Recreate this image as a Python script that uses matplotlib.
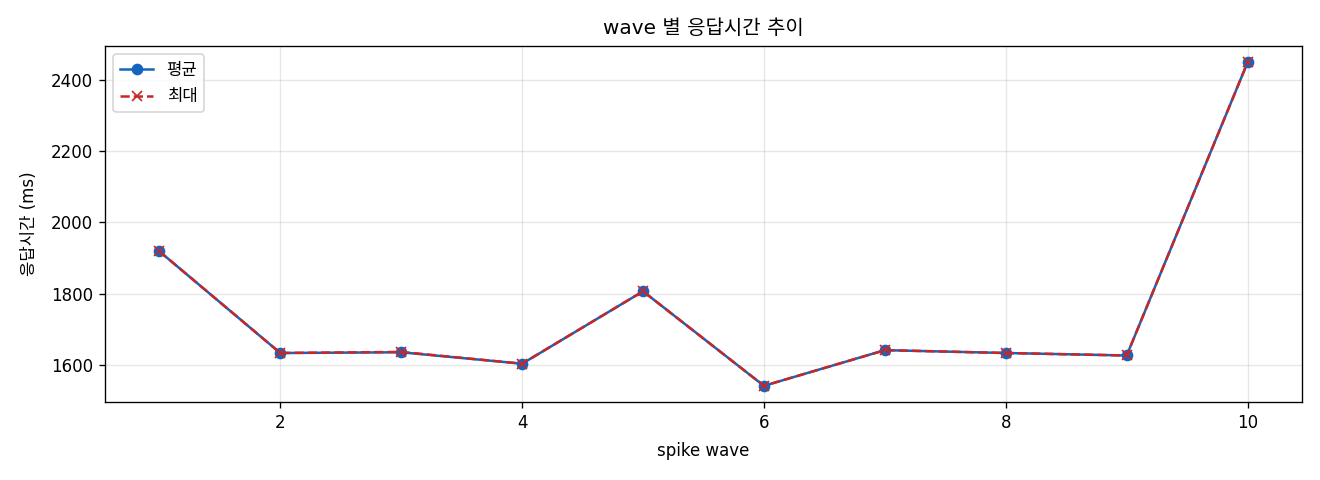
import matplotlib
matplotlib.use("Agg")
import matplotlib.pyplot as plt

plt.rcParams['font.family'] = ['DejaVu Sans', 'Noto Sans CJK KR']
plt.rcParams['axes.unicode_minus'] = False
plt.rcParams['font.size'] = 10

waves = [1, 2, 3, 4, 5, 6, 7, 8, 9, 10]
avg_ms = [1919, 1634, 1636, 1604, 1807, 1542, 1642, 1634, 1627, 2449]
max_ms = [1919, 1634, 1637, 1604, 1807, 1542, 1642, 1634, 1627, 2449]

fig, ax = plt.subplots(figsize=(11, 4), dpi=120)
ax.plot(waves, avg_ms, marker='o', color='#1565C0', label='평균', linewidth=1.5, markersize=6)
ax.plot(waves, max_ms, marker='x', linestyle='--', color='#C62828', label='최대', linewidth=1.5, markersize=6)
ax.set_title('wave 별 응답시간 추이', pad=7)
ax.set_xlabel('spike wave', labelpad=6)
ax.set_ylabel('응답시간 (ms)', labelpad=8)
ax.grid(True, alpha=0.3)
ax.legend(loc='upper left')
fig.subplots_adjust(left=0.0795, right=0.9864, top=0.904, bottom=0.1625)
fig.savefig('out.png')
